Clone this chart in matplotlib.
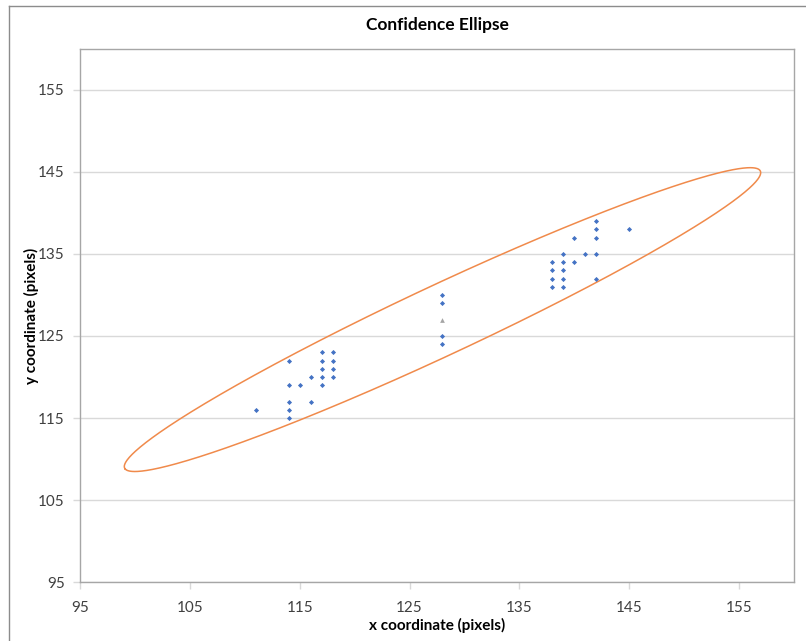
import numpy as np
import matplotlib
matplotlib.use("Agg")
import matplotlib.pyplot as plt
from matplotlib.lines import Line2D

plt.rcParams['font.family'] = ['Lato', 'DejaVu Sans']

# Measured positions (pixels)
x_vals = [111,
          114, 114, 114, 114, 114,
          115,
          116, 116,
          117, 117, 117, 117, 117,
          118, 118, 118, 118,
          128, 128, 128, 128,
          138, 138, 138, 138,
          139, 139, 139, 139, 139,
          140, 140,
          141,
          142, 142, 142, 142, 142,
          145]
y_vals = [116,
          122, 119, 117, 116, 115,
          119,
          120, 117,
          123, 122, 121, 120, 119,
          123, 122, 121, 120,
          130, 129, 125, 124,
          134, 133, 132, 131,
          135, 134, 133, 132, 131,
          137, 134,
          135,
          139, 138, 137, 135, 132,
          138]

confidence = 0.95
x_ticks = [95, 105, 115, 125, 135, 145, 155]
y_ticks = [95, 105, 115, 125, 135, 145, 155]

x = np.array(x_vals, dtype=float)
y = np.array(y_vals, dtype=float)
mean = np.array([x.mean(), y.mean()])
cov = np.cov(x, y, ddof=1)

# Confidence ellipse from the covariance (chi-square, 2 dof)
scale = np.sqrt(-2.0 * np.log(1.0 - confidence))
evals, evecs = np.linalg.eigh(cov)
order = np.argsort(evals)[::-1]
evals, evecs = evals[order], evecs[:, order]
t = np.linspace(0, 2 * np.pi, 721)
circle = np.vstack([np.cos(t), np.sin(t)])
pts = evecs @ (np.sqrt(evals)[:, None] * scale * circle)
ex = mean[0] + pts[0]
ey = mean[1] + pts[1]

fig = plt.figure(figsize=(8.06, 6.41), dpi=100)
ax = fig.add_axes([80 / 806, 59 / 641, 714 / 806, 533 / 641])

ax.set_xlim(95, 160)
ax.set_ylim(95, 160)
ax.set_xticks(x_ticks)
ax.set_yticks(y_ticks)

ax.yaxis.grid(True, color='#D9D9D9', linewidth=1.0)
ax.xaxis.grid(False)
ax.set_axisbelow(True)

ax.plot(ex, ey, color='#F08A4B', linewidth=1.1, zorder=2)
ax.plot(x, y, linestyle='none', marker='D', markersize=2.6,
        color='#4472C4', markeredgewidth=0, zorder=3)
ax.plot([mean[0]], [mean[1]], linestyle='none', marker='^', markersize=3.4,
        color='#A5A5A5', markeredgewidth=0, zorder=3)

for s in ax.spines.values():
    s.set_color('#A6A6A6')
    s.set_linewidth(1.0)

ax.tick_params(axis='both', which='major', length=5, width=1,
               color='#D9D9D9', labelsize=11, labelcolor='#404040')
ax.tick_params(axis='x', pad=9)
ax.tick_params(axis='y', pad=6)

ax.set_title('Confidence Ellipse', fontsize=12.5, fontweight='bold',
             color='#000000', pad=14)
ax.set_xlabel('x coordinate (pixels)', fontsize=11, fontweight='bold',
              color='#000000', labelpad=2)
ax.set_ylabel('y coordinate (pixels)', fontsize=11, fontweight='bold',
              color='#000000', labelpad=-1)

# Chart-area frame
fx, fy = 9 / 806, 1 - 6 / 641
fig.add_artist(Line2D([fx, fx], [0, fy], transform=fig.transFigure,
                      color='#8C8C8C', linewidth=1.0))
fig.add_artist(Line2D([fx, 1], [fy, fy], transform=fig.transFigure,
                      color='#8C8C8C', linewidth=1.0))

fig.savefig('out.png', dpi=100, facecolor='white')
